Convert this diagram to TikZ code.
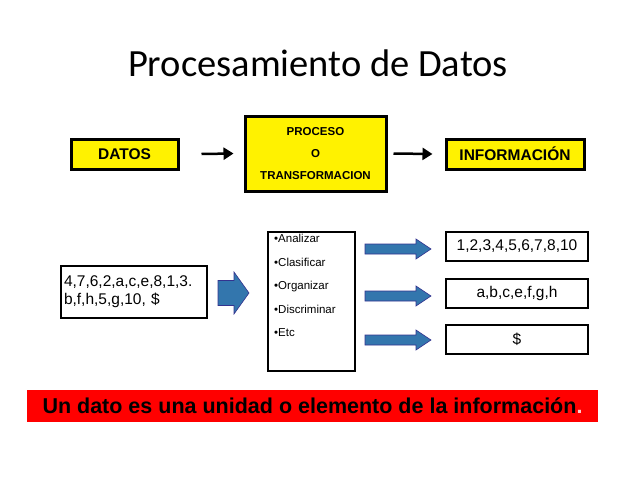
\documentclass[tikz,border=0pt]{standalone}
\usepackage{fontspec}
\setmainfont{Liberation Sans}
\newfontfamily\titlefont{Carlito}
\usetikzlibrary{arrows.meta}
\newcommand\barrow[6]{% name, x, y, length, shaft half, head half ; head length 15
  \draw[blockstyle] (#2,#3-#5) -- (#2+#4-15,#3-#5) -- (#2+#4-15,#3-#6) -- (#2+#4,#3) -- (#2+#4-15,#3+#6) -- (#2+#4-15,#3+#5) -- (#2,#3+#5) -- cycle;
  \coordinate (#1) at (#2,#3);}
\begin{document}
\begin{tikzpicture}[x=1pt,y=-1pt,
  ybox/.style={draw=black,line width=3pt,fill=yellow,font=\bfseries\fontsize{15.5}{18}\selectfont},
  wbox/.style={draw=black,line width=2.2pt,fill=white,font=\fontsize{15.5}{18}\selectfont},
  thinarrow/.style={line width=2.5pt,-{Triangle[length=10pt,width=12pt]}},
  blockstyle/.style={draw=black!40!blue!60!gray,fill=blue!45!cyan!60!black!80,line width=0.6pt}]
\useasboundingbox (0,0) rectangle (638,479);
\node[font=\titlefont\fontsize{38.5}{42}\selectfont] (title) at (318,63) {Procesamiento de Datos};
\node[ybox,minimum width=107pt,minimum height=30pt] (datos) at (124.5,154) {DATOS};
\node[ybox,minimum width=141pt,minimum height=75pt,align=center,font=\bfseries\fontsize{11.5}{22}\selectfont] (proc) at (315.5,153.5) {PROCESO\\O\\TRANSFORMACION};
\node[ybox,minimum width=138pt,minimum height=30pt] (info) at (515,154) {INFORMACIÓN};
\draw[thinarrow] ([xshift=22pt]datos.east) -- ([xshift=-10pt]proc.west);
\draw[thinarrow] ([xshift=6pt]proc.east) -- ([xshift=-12pt]info.west);
\node[wbox,minimum width=146pt,minimum height=52pt,align=left,text width=140pt,inner sep=3pt] (in) at (134,292) {4,7,6,2,a,c,e,8,1,3.\\b,f,h,5,g,10, \$};
\node[draw,line width=2.5pt,minimum width=87pt,minimum height=139pt] (list) at (311.5,301.5) {};
\node[anchor=north west,align=left,font=\fontsize{11.5}{23.5}\selectfont,inner sep=0pt] (items) at (274,234) {•Analizar\\•Clasificar\\•Organizar\\•Discriminar\\•Etc};
\barrow{b0}{218}{293}{31}{12.5}{21}
\node[wbox,minimum width=142pt,minimum height=29pt] (o1) at (517,246.5) {1,2,3,4,5,6,7,8,10};
\node[wbox,minimum width=142pt,minimum height=29pt] (o2) at (517,293.5) {a,b,c,e,f,g,h};
\node[wbox,minimum width=142pt,minimum height=29pt] (o3) at (517,339.5) {\$};
\barrow{b1}{365}{249}{66}{5}{10}
\barrow{b2}{365}{296}{66}{5}{10}
\barrow{b3}{365}{340}{66}{5}{10}
\node[fill=red,minimum width=571pt,minimum height=32pt,font=\bfseries\fontsize{21.5}{24}\selectfont] (bar) at (312.5,406) {Un dato es una unidad o elemento de la información\textcolor{white!80!red}{.}};
\end{tikzpicture}
\end{document}
